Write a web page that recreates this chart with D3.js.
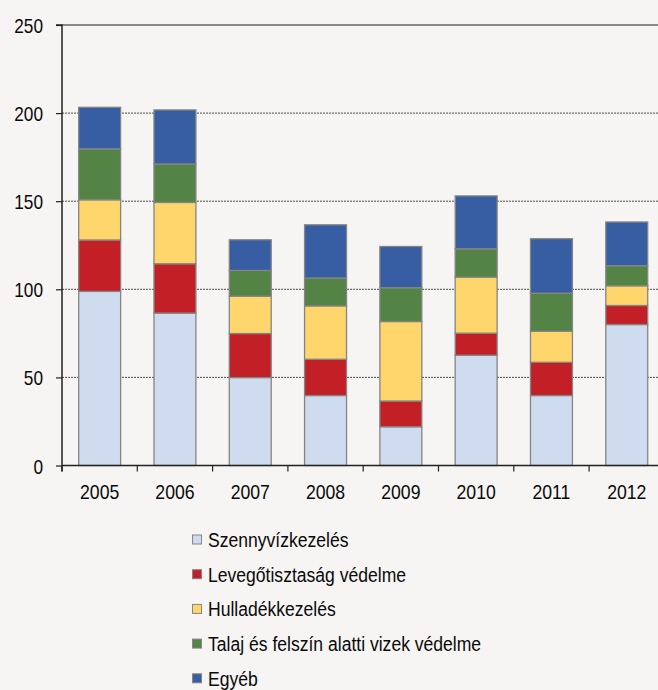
<!DOCTYPE html>
<html><head><meta charset="utf-8">
<script src="https://cdn.jsdelivr.net/npm/d3@7"></script>
<style>
html,body{margin:0;padding:0;background:#f6f5f3;}
svg{display:block;font-family:"Liberation Sans",Arial,sans-serif;}
</style></head>
<body>
<svg id="chart" width="658" height="690"></svg>
<script>
const years = ["2005","2006","2007","2008","2009","2010","2011","2012"];
const seriesNames = ["Szennyvízkezelés","Levegőtisztaság védelme","Hulladékkezelés","Talaj és felszín alatti vizek védelme","Egyéb"];
const szennyviz   = [98.8, 86.5, 49.9, 39.7, 22.0, 62.6, 39.7, 80.0];
const levego      = [29.2, 28.0, 25.0, 20.6, 14.6, 12.5, 18.9, 10.8];
const hulladek    = [22.8, 34.8, 21.2, 30.3, 45.1, 31.8, 17.6, 11.2];
const talaj       = [28.9, 21.8, 14.6, 15.8, 19.2, 16.1, 21.6, 11.4];
const egyeb       = [23.6, 30.7, 17.4, 30.2, 23.4, 30.0, 30.9, 24.8];
const yTicks = [0, 50, 100, 150, 200, 250];
const colors = ["#cfdcef","#c21f27","#ffd66b","#538446","#375da3"];

const values = [szennyviz, levego, hulladek, talaj, egyeb];
const rows = years.map((y, i) => {
  const o = {year: y};
  seriesNames.forEach((s, k) => o[s] = values[k][i]);
  return o;
});
const stacked = d3.stack().keys(seriesNames)(rows);

const FONT = "Liberation Sans, Arial, sans-serif";
function condense(factor) {
  return sel => sel.each(function () {
    const L = this.getComputedTextLength();
    d3.select(this).attr("textLength", L * factor).attr("lengthAdjust", "spacingAndGlyphs");
  });
}
const svg = d3.select("#chart");
const x0 = 62, x1 = 664.4, yTop = 25, yBot = 465.5;
const x = d3.scaleBand().domain(years).range([x0, x1]).paddingInner(0.443).paddingOuter(0.2215);
const y = d3.scaleLinear().domain([0, 250]).range([yBot, yTop]);

// gridlines
svg.append("g").selectAll("line").data(yTicks.filter(t => t > 0 && t < 250)).join("line")
  .attr("x1", x0).attr("x2", 658).attr("y1", d => y(d)).attr("y2", d => y(d))
  .attr("stroke", "#222").attr("stroke-width", 0.8).attr("stroke-dasharray", "2,1");
// top border
svg.append("line").attr("x1", x0).attr("x2", 658).attr("y1", y(250)).attr("y2", y(250))
  .attr("stroke", "#8a8a8a").attr("stroke-width", 2);

// bars
svg.append("g").selectAll("g").data(stacked).join("g")
  .attr("fill", (d, i) => colors[i])
  .selectAll("rect").data(d => d).join("rect")
  .attr("x", d => x(d.data.year))
  .attr("width", x.bandwidth())
  .attr("y", d => y(d[1]))
  .attr("height", d => y(d[0]) - y(d[1]))
  .attr("stroke", "#858585").attr("stroke-width", 1.3);

// y axis
const yAxis = d3.axisLeft(y).tickValues(yTicks).tickSize(6).tickPadding(12).tickFormat(d3.format("d"));
const gy = svg.append("g").attr("transform", `translate(${x0},0)`).call(yAxis);
gy.select(".domain").attr("stroke", "#222").attr("stroke-width", 1.5).attr("d", `M-6,${yTop}H0V${yBot + 6}`);
gy.selectAll(".tick line").attr("stroke", "#222").attr("stroke-width", 1.2);
gy.selectAll(".tick text").attr("font-size", 21).attr("fill", "#0a0a0a").attr("font-family", FONT)
  .attr("x", -19).attr("dy", "0.36em").call(condense(0.82));

// x axis
const xAxis = d3.axisBottom(x).tickSize(0).tickPadding(14);
const gx = svg.append("g").attr("transform", `translate(0,${yBot})`).call(xAxis);
gx.select(".domain").attr("stroke", "#222").attr("stroke-width", 1.5).attr("d", `M${x0},0H658`);
gx.selectAll(".tick text").attr("font-size", 21).attr("fill", "#0a0a0a").attr("font-family", FONT)
  .attr("y", 33).attr("dy", 0).call(condense(0.84));
// boundary ticks between categories
svg.append("g").selectAll("line").data(d3.range(years.length + 1)).join("line")
  .attr("x1", i => x0 + i * (x1 - x0) / years.length).attr("x2", i => x0 + i * (x1 - x0) / years.length)
  .attr("y1", yBot).attr("y2", yBot + 6).attr("stroke", "#222").attr("stroke-width", 1.2);

// legend
const lg = svg.append("g").selectAll("g").data(seriesNames).join("g")
  .attr("transform", (d, i) => `translate(192,${547 + i * 34.7})`);
lg.append("rect").attr("x", 0.5).attr("y", -12).attr("width", 9).attr("height", 9)
  .attr("fill", (d, i) => colors[i]).attr("stroke", "#858585").attr("stroke-width", 1);
lg.append("text").attr("x", 16).attr("y", 0).attr("font-size", 19.5).attr("font-family", FONT)
  .attr("fill", "#0a0a0a").text(d => d).call(condense(0.9));
</script>
</body></html>
